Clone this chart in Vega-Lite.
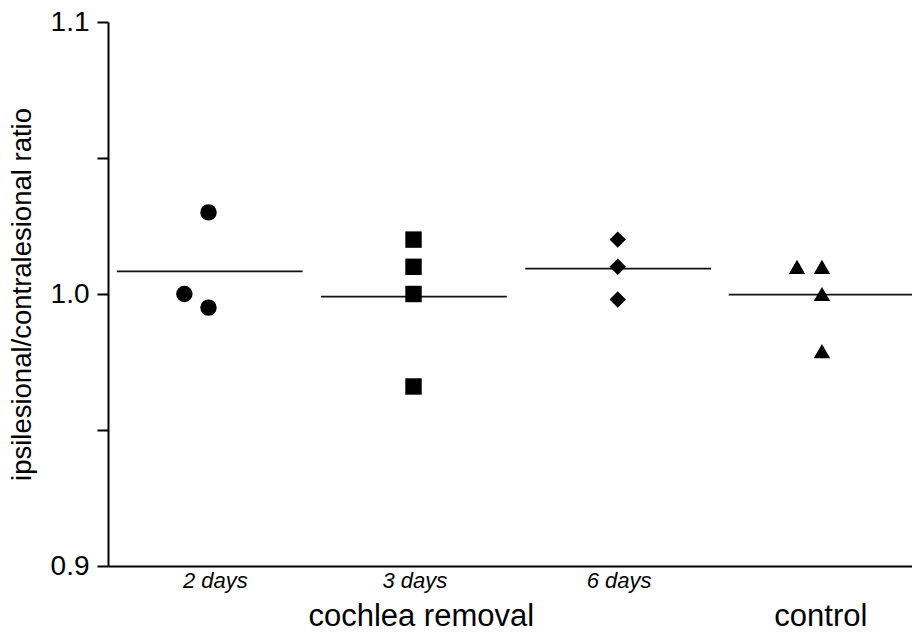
{
  "$schema": "https://vega.github.io/schema/vega-lite/v6.json",
  "width": 804,
  "height": 544,
  "autosize": {"type": "none"},
  "padding": {"left": 108, "top": 22, "right": 0, "bottom": 69},
  "background": "white",
  "config": {
    "view": {"stroke": null},
    "font": "Liberation Sans",
    "axis": {"domainColor": "#000", "tickColor": "#000", "labelColor": "#000", "titleColor": "#000", "grid": false}
  },
  "datasets": {
    "points": [
      {"group": "2 days", "pos": 12.5, "ratio": 1.030},
      {"group": "2 days", "pos": 9.5, "ratio": 1.000},
      {"group": "2 days", "pos": 12.5, "ratio": 0.995},
      {"group": "3 days", "pos": 38.0, "ratio": 1.020},
      {"group": "3 days", "pos": 38.0, "ratio": 1.010},
      {"group": "3 days", "pos": 38.0, "ratio": 1.000},
      {"group": "3 days", "pos": 38.0, "ratio": 0.966},
      {"group": "6 days", "pos": 63.4, "ratio": 1.020},
      {"group": "6 days", "pos": 63.4, "ratio": 1.010},
      {"group": "6 days", "pos": 63.4, "ratio": 0.998},
      {"group": "control", "pos": 85.7, "ratio": 1.010},
      {"group": "control", "pos": 88.8, "ratio": 1.010},
      {"group": "control", "pos": 88.8, "ratio": 1.000},
      {"group": "control", "pos": 88.8, "ratio": 0.979}
    ],
    "means": [
      {"group": "2 days", "start": 1.1, "end": 24.2, "mean": 1.0083},
      {"group": "3 days", "start": 26.5, "end": 49.6, "mean": 0.999},
      {"group": "6 days", "start": 51.9, "end": 75.0, "mean": 1.0093},
      {"group": "control", "start": 77.2, "end": 100, "mean": 0.9998}
    ]
  },
  "resolve": {"axis": {"x": "independent"}},
  "layer": [
    {
      "data": {"name": "means"},
      "mark": {"type": "rule", "strokeWidth": 1.8, "color": "#111"},
      "encoding": {
        "x": {
          "field": "start", "type": "quantitative",
          "scale": {"domain": [0, 100], "nice": false, "zero": false},
          "axis": {
            "orient": "bottom",
            "values": [13.3, 38.1, 63.5],
            "labelExpr": "datum.value < 20 ? '2 days' : (datum.value < 50 ? '3 days' : '6 days')",
            "ticks": false,
            "labelFontSize": 22,
            "labelFontStyle": "italic",
            "labelPadding": 4,
            "title": null,
            "domainWidth": 2
          }
        },
        "x2": {"field": "end"},
        "y": {
          "field": "mean", "type": "quantitative",
          "scale": {"domain": [0.9, 1.1], "nice": false, "zero": false},
          "axis": {
            "values": [0.9, 0.95, 1.0, 1.05, 1.1],
            "labelExpr": "round(datum.value*100) % 10 == 0 ? format(datum.value, '.1f') : ''",
            "tickSize": 11,
            "tickWidth": 2,
            "domainWidth": 2,
            "labelFontSize": 28,
            "labelPadding": 8,
            "title": "ipsilesional/contralesional ratio",
            "titleFontSize": 27.5,
            "titleFontWeight": "normal",
            "titlePadding": 14
          }
        }
      }
    },
    {
      "data": {"name": "points"},
      "mark": {"type": "point", "filled": true, "opacity": 1, "size": 270},
      "encoding": {
        "x": {
          "field": "pos", "type": "quantitative",
          "scale": {"domain": [0, 100], "nice": false, "zero": false},
          "axis": {
            "orient": "bottom",
            "values": [38.9, 88.6],
            "labelExpr": "datum.value < 60 ? 'cochlea removal' : 'control'",
            "ticks": false,
            "domain": false,
            "labelFontSize": 31,
            "labelPadding": 35,
            "labelLimit": 0,
            "title": null
          }
        },
        "y": {"field": "ratio", "type": "quantitative"},
        "shape": {
          "field": "group", "type": "nominal",
          "scale": {"domain": ["2 days", "3 days", "6 days", "control"], "range": ["circle", "square", "diamond", "triangle-up"]},
          "legend": null
        },
        "color": {"value": "#000"}
      }
    }
  ]
}
